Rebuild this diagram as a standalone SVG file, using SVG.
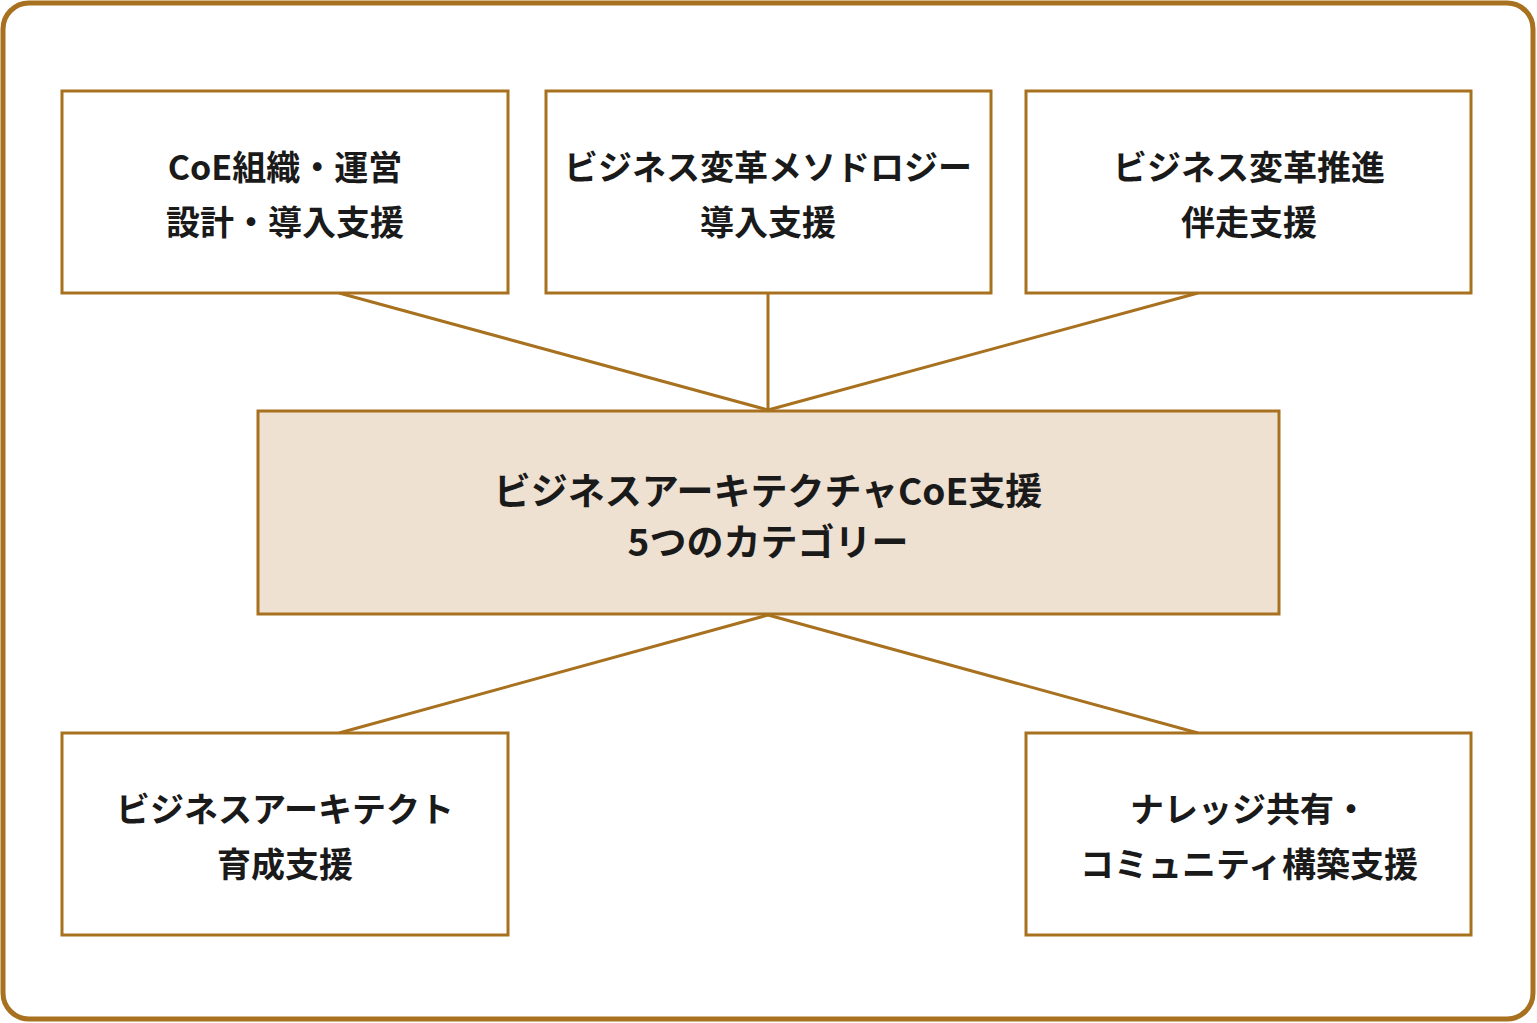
<svg xmlns="http://www.w3.org/2000/svg" width="1537" height="1023" viewBox="0 0 1537 1023">
<style>
.box{fill:#ffffff;stroke:#A8711F;stroke-width:3}
.center{fill:#EEE1D2;stroke:#A8711F;stroke-width:3}
.t{font-family:"Noto Sans CJK JP","Noto Sans",sans-serif;font-weight:bold;font-size:34px;fill:#1a1a1a;text-anchor:middle;dominant-baseline:central}
.tc{font-size:37px}
.c{stroke:#A8711F;stroke-width:3;fill:none}
</style>
<rect x="3" y="3" width="1530" height="1016" rx="26" ry="26" fill="#ffffff" stroke="#A8711F" stroke-width="5"/>
<g id="connectors">
<line class="c" x1="339" y1="293" x2="768" y2="410"/>
<line class="c" x1="768" y1="293" x2="768" y2="410"/>
<line class="c" x1="1198" y1="293" x2="768" y2="410"/>
<line class="c" x1="768" y1="615" x2="339" y2="733"/>
<line class="c" x1="768" y1="615" x2="1198" y2="733"/>
</g>
<g id="node1">
<rect class="box" x="62" y="91" width="446" height="202"/>
<text class="t" x="285" y="165">CoE組織・運営</text>
<text class="t" x="285" y="220">設計・導入支援</text>
</g>
<g id="node2">
<rect class="box" x="546" y="91" width="445" height="202"/>
<text class="t" x="768" y="165">ビジネス変革メソドロジー</text>
<text class="t" x="768" y="220">導入支援</text>
</g>
<g id="node3">
<rect class="box" x="1026" y="91" width="445" height="202"/>
<text class="t" x="1249" y="165">ビジネス変革推進</text>
<text class="t" x="1249" y="220">伴走支援</text>
</g>
<g id="center">
<rect class="center" x="258" y="411" width="1021" height="203"/>
<text class="t tc" x="768" y="489">ビジネスアーキテクチャCoE支援</text>
<text class="t tc" x="768" y="540">5つのカテゴリー</text>
</g>
<g id="node4">
<rect class="box" x="62" y="733" width="446" height="202"/>
<text class="t" x="285" y="807">ビジネスアーキテクト</text>
<text class="t" x="285" y="862">育成支援</text>
</g>
<g id="node5">
<rect class="box" x="1026" y="733" width="445" height="202"/>
<text class="t" x="1249" y="807">ナレッジ共有・</text>
<text class="t" x="1249" y="862">コミュニティ構築支援</text>
</g>
</svg>
